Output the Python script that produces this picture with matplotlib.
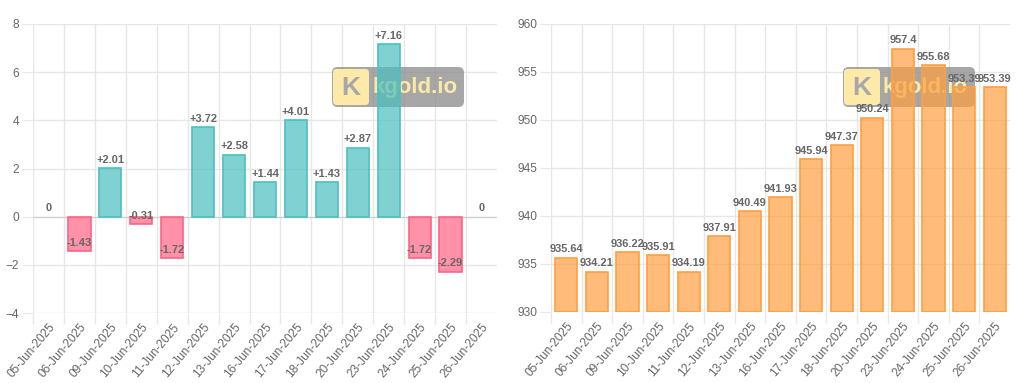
import numpy as np
import matplotlib.pyplot as plt
from matplotlib.patches import FancyBboxPatch
from matplotlib.ticker import FixedLocator, NullFormatter

plt.rcParams['font.family'] = ['Liberation Sans', 'DejaVu Sans']

# data
dates = ["05-Jun-2025", "06-Jun-2025", "09-Jun-2025", "10-Jun-2025", "11-Jun-2025",
         "12-Jun-2025", "13-Jun-2025", "16-Jun-2025", "17-Jun-2025", "18-Jun-2025",
         "20-Jun-2025", "23-Jun-2025", "24-Jun-2025", "25-Jun-2025", "26-Jun-2025"]
change = [0, -1.43, 2.01, -0.31, -1.72, 3.72, 2.58, 1.44, 4.01, 1.43, 2.87, 7.16, -1.72, -2.29, 0]
price = [935.64, 934.21, 936.22, 935.91, 934.19, 937.91, 940.49, 941.93, 945.94,
         947.37, 950.24, 957.4, 955.68, 953.39, 953.39]

W, H = 1024, 383
fig = plt.figure(figsize=(W / 100, H / 100), dpi=100)

grid_c = '#e8e6e7'
txt_c = '#666666'


def px_axes(x0, y0, x1, y1):
    # pixel box (top-left origin) -> figure fraction
    return [x0 / W, 1 - y1 / H, (x1 - x0) / W, (y1 - y0) / H]


def watermark(ax, x0, y0, x1, y1):
    # coordinates in pixels relative to axes top-left
    bb = ax.get_position()
    aw, ah = bb.width * W, bb.height * H
    def ax_xy(px, py):
        return px / aw, 1 - py / ah
    asp = aw / ah
    bx, by = ax_xy(x0, y1)
    box = FancyBboxPatch((bx, by), (x1 - x0) / aw, (y1 - y0) / ah,
                         boxstyle="round,pad=0,rounding_size=0.012",
                         mutation_aspect=asp, transform=ax.transAxes,
                         fc='#8a8a8a', ec='none', alpha=0.75, zorder=2, clip_on=False)
    ax.add_patch(box)
    kx, ky = ax_xy(x0 + 1, y1 - 2)
    ks = FancyBboxPatch((kx, ky), 36 / aw, 36 / ah,
                        boxstyle="round,pad=0,rounding_size=0.008",
                        mutation_aspect=asp, transform=ax.transAxes,
                        fc='#fde9a8', ec='none', zorder=2.1, clip_on=False)
    ax.add_patch(ks)
    tx, ty = ax_xy(x0 + 19, (y0 + y1) / 2 + 1)
    ax.text(tx, ty, 'K', transform=ax.transAxes, ha='center', va='center',
            fontsize=19, fontweight='bold', color='#a8a8a8', zorder=2.2)
    tx, ty = ax_xy(x0 + 40, (y0 + y1) / 2 + 1)
    ax.text(tx, ty, 'kgold.io', transform=ax.transAxes, ha='left', va='center',
            fontsize=16, fontweight='bold', color='#fbe9a6', zorder=2.2)


def style_axes(ax, n, ymin, ymax, step, zero_line=False):
    ax.set_xlim(-0.5, n - 0.5)
    ax.set_ylim(ymin, ymax)
    ax.set_yticks(np.arange(ymin, ymax + step / 2, step))
    ax.xaxis.set_major_locator(FixedLocator(np.arange(n)))
    ax.xaxis.set_minor_locator(FixedLocator(np.arange(n) - 0.5))
    ax.xaxis.set_minor_formatter(NullFormatter())
    ax.set_xticklabels(dates, rotation=50, ha='right', va='top', rotation_mode='anchor')
    ax.tick_params(axis='x', which='major', length=0, pad=6, labelsize=8.6, labelcolor=txt_c)
    ax.tick_params(axis='x', which='minor', length=8, color=grid_c, width=1)
    ax.tick_params(axis='y', length=8, color=grid_c, pad=2, labelsize=8.6, labelcolor=txt_c)
    ax.grid(False)
    for b in np.arange(n) - 0.5:
        ax.axvline(b, color=grid_c, lw=1, zorder=0)
    for yv in np.arange(ymin, ymax + step / 2, step):
        c = '#cfcfcf' if (zero_line and yv == 0) else grid_c
        ax.axhline(yv, color=c, lw=1, zorder=0)
    for s in ax.spines.values():
        s.set_visible(False)


def bar_labels(ax, xs, vals, texts):
    for x, v, t in zip(xs, vals, texts):
        ax.annotate(t, (x, v), xytext=(0, 2.5), textcoords='offset points',
                    ha='center', va='bottom', fontsize=7.9, fontweight='bold',
                    color=txt_c, zorder=5)


x = np.arange(len(dates))

# left chart: daily change
ax1 = fig.add_axes(px_axes(33, 24, 497, 313))
style_axes(ax1, len(dates), -4, 8, 2, zero_line=True)
fills = ['#ff6384' if v < 0 else '#4bc0c0' for v in change]
ax1.bar(x, change, width=0.72, color=fills, alpha=0.7, zorder=3)
edge_w = [1.2 if v != 0 else 0 for v in change]
ax1.bar(x, change, width=0.72, fill=False, edgecolor=fills, linewidth=edge_w, zorder=3.1)
labels1 = [('+%.2f' % v if v > 0 else ('0' if v == 0 else '%.2f' % v)) for v in change]
bar_labels(ax1, x, change, labels1)
watermark(ax1, 332 - 33, 67 - 24, 464 - 33, 107 - 24)

# right chart: price
ax2 = fig.add_axes(px_axes(551, 24, 1010, 312))
style_axes(ax2, len(dates), 930, 960, 5)
ax2.bar(x, np.array(price) - 930, bottom=930, width=0.72, color='#ff9f40', alpha=0.7, zorder=3)
ax2.bar(x, np.array(price) - 930, bottom=930, width=0.72, fill=False,
        edgecolor='#ff9f40', lw=1.2, zorder=3.1)
labels2 = ['%g' % v for v in price]
bar_labels(ax2, x, price, labels2)
watermark(ax2, 843 - 551, 67 - 24, 975 - 551, 107 - 24)

fig.savefig('out.png', dpi=100)
